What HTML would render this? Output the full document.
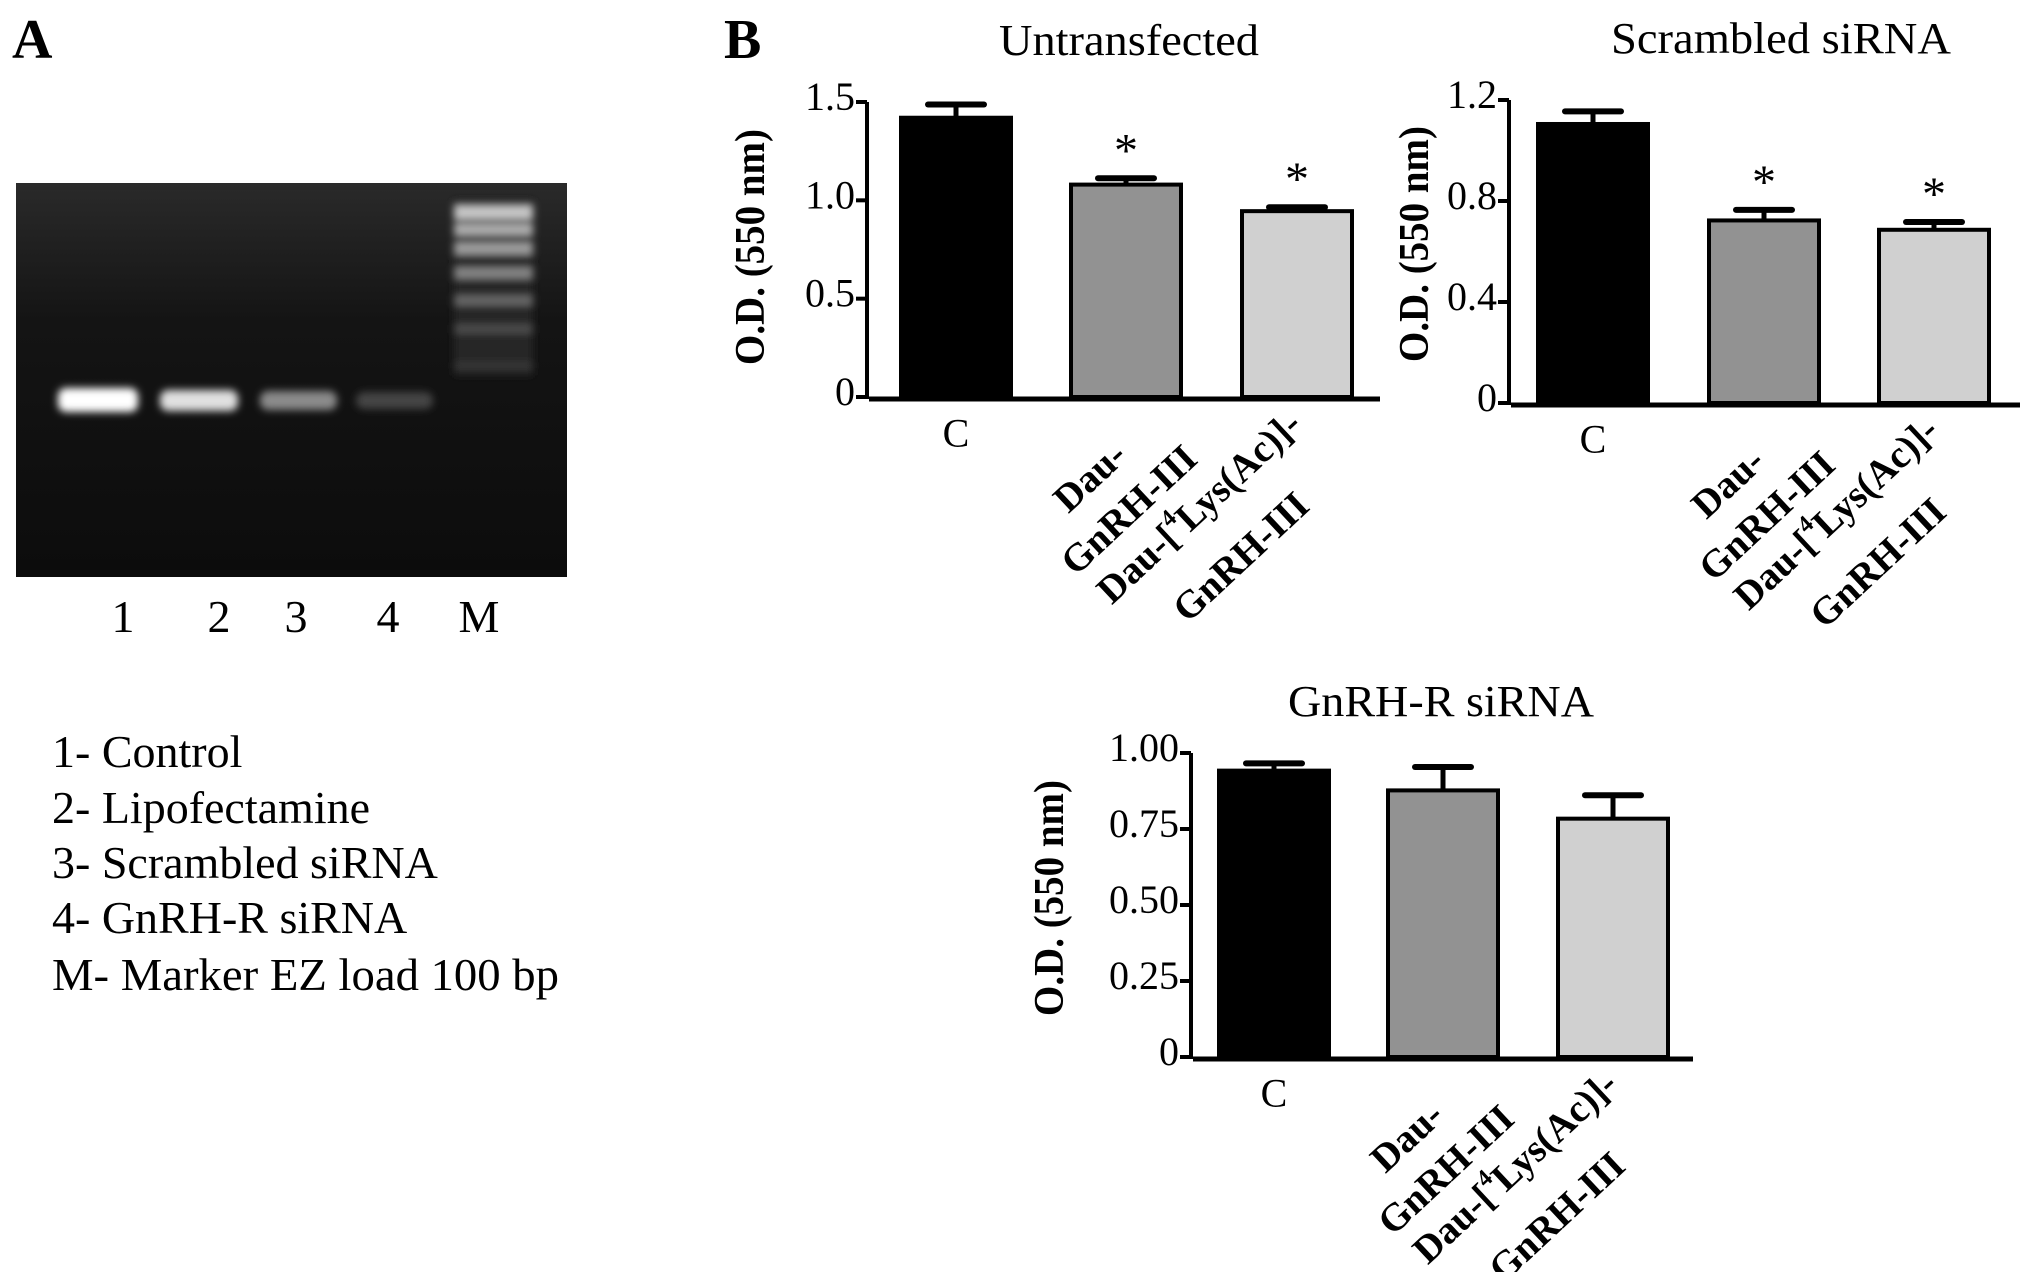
<!DOCTYPE html>
<html><head><meta charset="utf-8"><style>
html,body{margin:0;padding:0;background:#fff;}
svg{display:block;}
text{font-family:"Liberation Serif",serif;fill:#000;}
</style></head><body>
<svg id="fig" width="2031" height="1272" viewBox="0 0 2031 1272" xmlns="http://www.w3.org/2000/svg">
<defs>
<linearGradient id="gelbg" x1="0" y1="0" x2="0" y2="1">
<stop offset="0" stop-color="#2a2a2a"/><stop offset="0.35" stop-color="#141414"/><stop offset="1" stop-color="#0c0c0c"/>
</linearGradient>
<filter id="blur" x="-20%" y="-100%" width="140%" height="300%"><feGaussianBlur stdDeviation="4"/></filter>
</defs>
<text x="12" y="58" font-size="56" font-weight="bold">A</text>
<text x="724" y="58" font-size="56" font-weight="bold">B</text>
<g>
<rect x="16" y="183" width="551" height="394" fill="url(#gelbg)"/>
<g filter="url(#blur)">
<rect x="58" y="388" width="80" height="24" rx="8" fill="#ffffff"/>
<rect x="160" y="390" width="78" height="21" rx="8" fill="#e0e0e0"/>
<rect x="260" y="391" width="77" height="19" rx="8" fill="#8a8a8a"/>
<rect x="356" y="392" width="77" height="17" rx="8" fill="#444"/>
<rect x="454" y="200" width="79" height="175" fill="#262626"/>
<rect x="454" y="206" width="79" height="13" fill="#c8c8c8"/>
<rect x="454" y="224" width="79" height="11" fill="#b0b0b0"/>
<rect x="454" y="243" width="79" height="11" fill="#a0a0a0"/>
<rect x="454" y="268" width="79" height="10" fill="#888"/>
<rect x="454" y="296" width="79" height="9" fill="#6a6a6a"/>
<rect x="454" y="325" width="79" height="8" fill="#505050"/>
<rect x="454" y="362" width="79" height="7" fill="#383838"/>
</g>
</g>
<g font-size="46" text-anchor="middle">
<text x="123" y="632">1</text><text x="219" y="632">2</text><text x="296" y="632">3</text><text x="388" y="632">4</text><text x="479" y="632">M</text>
</g>
<g font-size="46">
<text x="52" y="767">1- Control</text>
<text x="52" y="823">2- Lipofectamine</text>
<text x="52" y="878">3- Scrambled siRNA</text>
<text x="52" y="933">4- GnRH-R siRNA</text>
<text x="52" y="990" textLength="507" lengthAdjust="spacingAndGlyphs">M- Marker EZ load 100 bp</text>
</g>
<g id="charts"></g>
</svg>
<script>
// Chart data
const categories = ["C", "Dau-GnRH-III", "Dau-[4Lys(Ac)]-GnRH-III"];
const untransfectedValues = [1.42, 1.08, 0.945];
const untransfectedErrors = [0.067, 0.032, 0.02];
const untransfectedSig = [false, true, true];
const untransfectedTicks = ["0", "0.5", "1.0", "1.5"];
const untransfectedTickValues = [0, 0.5, 1.0, 1.5];
const scrambledValues = [1.105, 0.723, 0.686];
const scrambledErrors = [0.05, 0.042, 0.031];
const scrambledSig = [false, true, true];
const scrambledTicks = ["0", "0.4", "0.8", "1.2"];
const scrambledTickValues = [0, 0.4, 0.8, 1.2];
const gnrhrValues = [0.942, 0.877, 0.784];
const gnrhrErrors = [0.024, 0.077, 0.077];
const gnrhrSig = [false, false, false];
const gnrhrTicks = ["0", "0.25", "0.50", "0.75", "1.00"];
const gnrhrTickValues = [0, 0.25, 0.5, 0.75, 1.0];

const NS = "http://www.w3.org/2000/svg";
const fills = ["#000000", "#929292", "#d0d0d0"];
function mk(tag, attrs, parent) {
  const e = document.createElementNS(NS, tag);
  for (const k in attrs) e.setAttribute(k, attrs[k]);
  parent.appendChild(e);
  return e;
}
function drawChart(cfg) {
  const root = document.getElementById("charts");
  const g = mk("g", {}, root);
  
  
  const yScale = v => cfg.y0 - (v / cfg.vmax) * (cfg.y0 - cfg.yTop);
  const t = mk("text", {x: cfg.titleX, y: cfg.titleY, "font-size": 44, "text-anchor": "middle", textLength: cfg.titleW, lengthAdjust: "spacingAndGlyphs"}, g);
  t.textContent = cfg.title;
  
  
  const yl = mk("text", {transform: `translate(${cfg.ylX},${cfg.ylY}) rotate(-90)`, "font-size": 42, "font-weight": "bold", "text-anchor": "middle", "dominant-baseline": "central", textLength: 236, lengthAdjust: "spacingAndGlyphs"}, g);
  yl.textContent = "O.D. (550 nm)";
  
  
  const ax = mk("line", {x1: cfg.axX, x2: cfg.axX, y1: cfg.yTop, y2: cfg.y0 + 2, stroke: "#000", "stroke-width": 4}, g);
  
  
  cfg.tickValues.forEach((v, i) => {
    const y = yScale(v);
    const tk = mk("line", {x1: cfg.axX - 11, x2: cfg.axX, y1: y, y2: y, stroke: "#000", "stroke-width": 4}, g);
    
    
    const tl = mk("text", {x: cfg.axX - 12, y: y + 8, "font-size": 40, "text-anchor": "end"}, g);
    tl.textContent = cfg.ticks[i];
    
    
  });
  const xa = mk("line", {x1: cfg.axX + 2, x2: cfg.axEnd, y1: cfg.y0 + 2, y2: cfg.y0 + 2, stroke: "#000", "stroke-width": 5}, g);
  
  
  const bw = 114;
  cfg.values.forEach((v, i) => {
    const x = cfg.barX[i];
    const cx = x + bw / 2;
    const top = yScale(v);
    const etop = yScale(v + cfg.errors[i]);
    const el = mk("line", {x1: cx, x2: cx, y1: etop, y2: top, stroke: "#000", "stroke-width": 5}, g);
    
    
    const ec = mk("line", {x1: cx - 28, x2: cx + 28, y1: etop, y2: etop, stroke: "#000", "stroke-width": 6, "stroke-linecap": "round"}, g);
    
    
    const r = mk("rect", {x: x + 2, y: top, width: bw - 4, height: cfg.y0 - top, fill: fills[i], stroke: "#000", "stroke-width": 4}, g);
    
    
    if (cfg.sig[i]) {
      const s = mk("text", {x: cx, y: etop - 12, "font-size": 48, "text-anchor": "middle"}, g);
      s.textContent = "*";
      
      
    }
    const b = cfg.y0;
    if (i === 0) {
      const c = mk("text", {x: cx, y: b + 36, "font-size": 40, "text-anchor": "middle", "dominant-baseline": "central"}, g);
      c.textContent = categories[0];
      
      
    } else if (i === 1) {
      const a = mk("text", {transform: `translate(${cx - 36},${b + 80}) rotate(-43)`, "font-size": 39, "font-weight": "bold", "text-anchor": "middle", "dominant-baseline": "central"}, g);
      a.textContent = "Dau-";
      
      
      const a2 = mk("text", {transform: `translate(${cx + 3},${b + 113}) rotate(-43)`, "font-size": 39, "font-weight": "bold", "text-anchor": "middle", "dominant-baseline": "central"}, g);
      a2.textContent = "GnRH-III";
      
      
    } else {
      const a = mk("text", {transform: `translate(${cx - 98},${b + 110}) rotate(-43)`, "font-size": 39, "font-weight": "bold", "text-anchor": "middle", "dominant-baseline": "central", textLength: 262, lengthAdjust: "spacingAndGlyphs"}, g);
      a.innerHTML = 'Dau-[<tspan font-size="24" dy="-12">4</tspan><tspan dy="12">Lys(Ac)]-</tspan>';
      
      
      const a2 = mk("text", {transform: `translate(${cx - 56},${b + 160}) rotate(-43)`, "font-size": 39, "font-weight": "bold", "text-anchor": "middle", "dominant-baseline": "central"}, g);
      a2.textContent = "GnRH-III";
      
      
    }
  });
}
drawChart({name: "chart-untransfected", title: "Untransfected", titleX: 1129, titleY: 55, titleW: 260,
  ylX: 751, ylY: 247, axX: 867, yTop: 102, y0: 397, vmax: 1.5, axEnd: 1380,
  barX: [899, 1069, 1240], values: untransfectedValues, errors: untransfectedErrors, sig: untransfectedSig,
  ticks: untransfectedTicks, tickValues: untransfectedTickValues});
drawChart({name: "chart-scrambled-sirna", title: "Scrambled siRNA", titleX: 1781, titleY: 53, titleW: 340,
  ylX: 1415, ylY: 244, axX: 1509, yTop: 100, y0: 403, vmax: 1.2, axEnd: 2020,
  barX: [1536, 1707, 1877], values: scrambledValues, errors: scrambledErrors, sig: scrambledSig,
  ticks: scrambledTicks, tickValues: scrambledTickValues});
drawChart({name: "chart-gnrh-r-sirna", title: "GnRH-R siRNA", titleX: 1441, titleY: 716, titleW: 306,
  ylX: 1050, ylY: 898, axX: 1191, yTop: 753, y0: 1057, vmax: 1.0, axEnd: 1693,
  barX: [1217, 1386, 1556], values: gnrhrValues, errors: gnrhrErrors, sig: gnrhrSig,
  ticks: gnrhrTicks, tickValues: gnrhrTickValues});
</script>
</body></html>
